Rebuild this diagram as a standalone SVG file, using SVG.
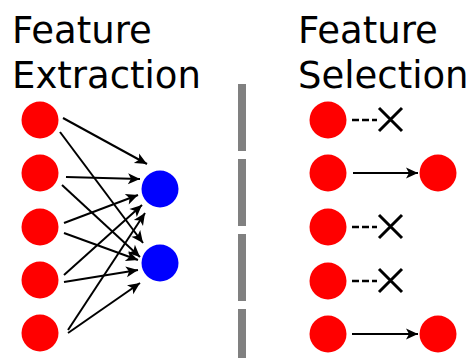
<svg xmlns="http://www.w3.org/2000/svg" width="469" height="358" viewBox="0 0 469 358">
<style>
.t{font-family:"DejaVu Sans",sans-serif;font-size:37px;fill:#000}
.red{fill:#ff0000}
.blue{fill:#0000ff}
.arr{stroke:#000;stroke-width:2;fill:none;marker-end:url(#ah)}
.dash{stroke:#000;stroke-width:2.5;stroke-dasharray:7,3;fill:none}
.x{stroke:#000;stroke-width:3;fill:none}
.div{stroke:#808080;stroke-width:8;stroke-dasharray:67,8}
</style>
<defs>
<marker id="ah" markerUnits="userSpaceOnUse" markerWidth="16" markerHeight="14" refX="14" refY="7" orient="auto" viewBox="0 0 16 14">
<path d="M14,7 L2,1.5 L5,7 L2,12.5 Z" fill="#000"/>
</marker>
</defs>
<rect width="469" height="358" fill="#fff"/>
<g id="title-left">
<text class="t" x="12" y="43">Feature</text>
<text class="t" x="12" y="88">Extraction</text>
</g>
<g id="title-right">
<text class="t" x="298" y="43">Feature</text>
<text class="t" x="298" y="88">Selection</text>
</g>
<g id="divider"><line class="div" x1="242" y1="84" x2="242" y2="358"/></g>
<g id="connectors">
<line class="arr" x1="63" y1="118" x2="147" y2="164"/>
<line class="arr" x1="60" y1="132" x2="143" y2="243"/>
<line class="arr" x1="66" y1="177" x2="140" y2="179"/>
<line class="arr" x1="62" y1="185" x2="140" y2="257"/>
<line class="arr" x1="64" y1="223" x2="138" y2="195"/>
<line class="arr" x1="64" y1="233" x2="138" y2="260"/>
<line class="arr" x1="64" y1="275" x2="142" y2="205"/>
<line class="arr" x1="64" y1="282" x2="138" y2="270"/>
<line class="arr" x1="68" y1="330" x2="145" y2="213"/>
<line class="arr" x1="68" y1="333" x2="140" y2="283"/>
<line class="dash" x1="352" y1="120" x2="377" y2="120"/>
<line class="arr" x1="353" y1="173" x2="418" y2="173"/>
<line class="dash" x1="352" y1="227" x2="377" y2="227"/>
<line class="dash" x1="352" y1="281" x2="377" y2="281"/>
<line class="arr" x1="352" y1="334" x2="418" y2="334"/>
</g>
<g id="crosses">
<path class="x" d="M379,108 L402,131 M402,108 L379,131"/>
<path class="x" d="M379,215 L402,238 M402,215 L379,238"/>
<path class="x" d="M379,269 L402,292 M402,269 L379,292"/>
</g>
<g id="in1"><circle class="red" cx="40" cy="120" r="18.5"/></g>
<g id="in2"><circle class="red" cx="40" cy="173" r="18.5"/></g>
<g id="in3"><circle class="red" cx="40" cy="227" r="18.5"/></g>
<g id="in4"><circle class="red" cx="40" cy="280" r="18.5"/></g>
<g id="in5"><circle class="red" cx="40" cy="333" r="18.5"/></g>
<g id="out1"><circle class="blue" cx="160" cy="189" r="18.5"/></g>
<g id="out2"><circle class="blue" cx="160" cy="263" r="18.5"/></g>
<g id="sel1"><circle class="red" cx="328" cy="120" r="18.5"/></g>
<g id="sel2"><circle class="red" cx="328" cy="173" r="18.5"/></g>
<g id="sel3"><circle class="red" cx="328" cy="227" r="18.5"/></g>
<g id="sel4"><circle class="red" cx="328" cy="281" r="18.5"/></g>
<g id="sel5"><circle class="red" cx="328" cy="334" r="18.5"/></g>
<g id="kept2"><circle class="red" cx="438" cy="173" r="18.5"/></g>
<g id="kept5"><circle class="red" cx="438" cy="334" r="18.5"/></g>
</svg>
